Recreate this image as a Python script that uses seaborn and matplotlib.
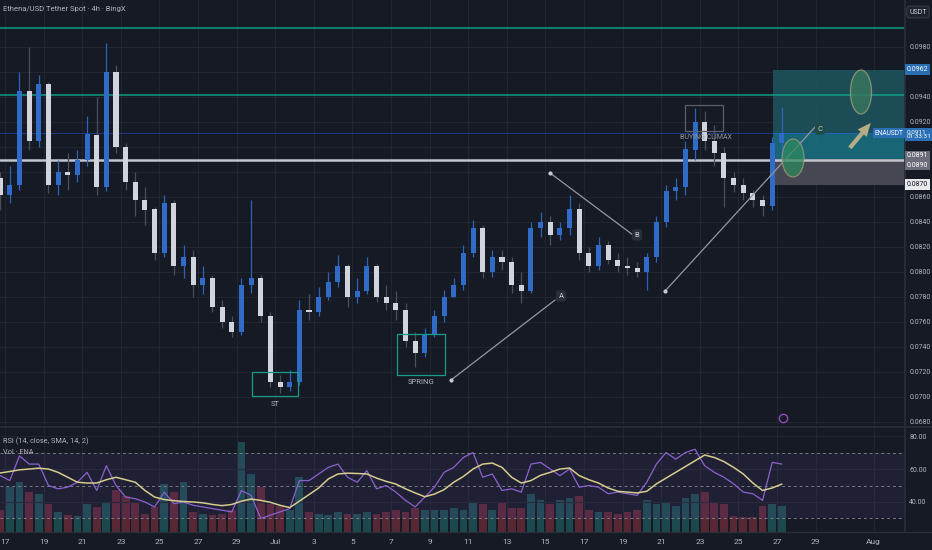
import numpy as np
import pandas as pd
import seaborn as sns
import matplotlib.pyplot as plt
import matplotlib.transforms as mtransforms
from matplotlib.patches import Rectangle, Ellipse

# ENA/USDT, 12h candles (Jun 16 evening -> Jul 27)
close = [0.0862, 0.0870, 0.0945, 0.0905, 0.0950, 0.0870, 0.0880, 0.0878, 0.0890, 0.0910,
         0.0868, 0.0960, 0.0900, 0.0872, 0.0858, 0.0850, 0.0815, 0.0855, 0.0805, 0.0812,
         0.0790, 0.0795, 0.0772, 0.0760, 0.0752, 0.0790, 0.0795, 0.0765, 0.0712, 0.0708,
         0.0712, 0.0770, 0.0768, 0.0780, 0.0792, 0.0805, 0.0780, 0.0785, 0.0805, 0.0780,
         0.0775, 0.0770, 0.0745, 0.0735, 0.0750, 0.0765, 0.0780, 0.0790, 0.0815, 0.0835,
         0.0800, 0.0812, 0.0808, 0.0790, 0.0785, 0.0835, 0.0840, 0.0830, 0.0835, 0.0850,
         0.0815, 0.0805, 0.0822, 0.0810, 0.0805, 0.0803, 0.0800, 0.0812, 0.0840, 0.0865,
         0.0868, 0.0898, 0.0920, 0.0905, 0.0895, 0.0875, 0.0870, 0.0863, 0.0858, 0.0853,
         0.0903, 0.0911]
high = [0.0880, 0.0885, 0.0960, 0.0980, 0.0958, 0.0952, 0.0890, 0.0895, 0.0898, 0.0925,
        0.0940, 0.0983, 0.0966, 0.0903, 0.0880, 0.0868, 0.0852, 0.0862, 0.0858, 0.0822,
        0.0818, 0.0805, 0.0798, 0.0778, 0.0765, 0.0795, 0.0858, 0.0798, 0.0768, 0.0718,
        0.0722, 0.0778, 0.0782, 0.0788, 0.0800, 0.0814, 0.0806, 0.0795, 0.0812, 0.0806,
        0.0790, 0.0785, 0.0775, 0.0752, 0.0755, 0.0770, 0.0786, 0.0795, 0.0822, 0.0842,
        0.0838, 0.0818, 0.0818, 0.0812, 0.0800, 0.0840, 0.0848, 0.0845, 0.0840, 0.0862,
        0.0855, 0.0820, 0.0828, 0.0825, 0.0815, 0.0812, 0.0808, 0.0815, 0.0845, 0.0870,
        0.0875, 0.0905, 0.0931, 0.0929, 0.0918, 0.0900, 0.0880, 0.0875, 0.0866, 0.0862,
        0.0908, 0.0932]
low = [0.0850, 0.0855, 0.0866, 0.0898, 0.0900, 0.0863, 0.0862, 0.0866, 0.0872, 0.0885,
       0.0862, 0.0865, 0.0895, 0.0866, 0.0845, 0.0838, 0.0810, 0.0812, 0.0798, 0.0795,
       0.0780, 0.0782, 0.0768, 0.0755, 0.0748, 0.0750, 0.0783, 0.0760, 0.0708, 0.0703,
       0.0705, 0.0710, 0.0762, 0.0765, 0.0778, 0.0788, 0.0772, 0.0775, 0.0782, 0.0776,
       0.0770, 0.0762, 0.0740, 0.0724, 0.0732, 0.0748, 0.0760, 0.0780, 0.0786, 0.0812,
       0.0795, 0.0796, 0.0802, 0.0783, 0.0775, 0.0783, 0.0828, 0.0822, 0.0826, 0.0830,
       0.0810, 0.0800, 0.0802, 0.0806, 0.0800, 0.0798, 0.0796, 0.0786, 0.0808, 0.0836,
       0.0858, 0.0862, 0.0890, 0.0898, 0.0885, 0.0852, 0.0864, 0.0858, 0.0852, 0.0845,
       0.0850, 0.0892]
first_open = 0.0875
volume = [22, 45, 50, 40, 38, 28, 20, 17, 16, 28, 25, 30, 42, 36, 30, 18, 25, 48, 40, 50,
          20, 18, 17, 18, 22, 90, 58, 45, 28, 26, 22, 55, 20, 18, 17, 20, 18, 18, 20, 18,
          20, 22, 20, 24, 22, 22, 22, 24, 22, 30, 28, 22, 30, 24, 24, 38, 32, 28, 32, 34,
          36, 22, 20, 20, 18, 20, 22, 32, 28, 30, 26, 34, 38, 40, 30, 28, 16, 15, 15, 26,
          28, 26]
rsi = [56, 53, 68, 63, 63, 50, 48, 49, 52, 58, 47, 62, 50, 43, 42, 40, 37, 46, 39, 40,
       38, 37, 36, 35, 34, 47, 44, 30, 32, 34, 36, 53, 53, 57, 61, 63, 55, 52, 59, 48,
       50, 46, 41, 37, 43, 49, 58, 61, 67, 70, 55, 57, 47, 48, 46, 63, 64, 60, 56, 60,
       49, 50, 49, 45, 46, 45, 44, 52, 63, 70, 66, 70, 72, 62, 58, 55, 51, 46, 45, 41,
       64, 63]
rsi_ma = [57.6, 58.5, 59.5, 60, 60.5, 60, 58, 55, 52, 51.5, 51.5, 53.5, 55, 53.5, 52, 47,
          43, 41.5, 40.8, 40.3, 40, 39.5, 38.5, 37.8, 38.5, 40.5, 41.8, 41, 39.8, 38, 36.6,
          40.5, 44.5, 48.5, 54, 57, 57.5, 57.3, 57, 54.5, 52.5, 50.9, 48, 45.5, 43.2, 44.8,
          47.5, 52, 55.5, 60, 63, 63.6, 61, 55, 51.5, 53, 56.2, 58, 60, 60.6, 56, 53.5,
          51.5, 48.5, 46.5, 46, 45.5, 46.5, 51, 54.5, 58, 61.5, 65, 68.5, 67, 64.5, 61, 57,
          51.5, 47, 48.5, 50.9]

tick_days = list(range(0, 44, 2)) + [45]
tick_labels = ["17", "19", "21", "23", "25", "27", "29", "Jul", "3", "5", "7", "9", "11",
               "13", "15", "17", "19", "21", "23", "25", "27", "29", "Aug"]
price_ticks = np.arange(0.068, 0.0999, 0.002)
hidden_ticks = [0.0960, 0.0900, 0.0880]   # covered by the position-tool tags

# drawings on the chart: (day since Jun 17, price)
lines_abc = [((23.11, 0.07136), (28.50, 0.07776)),
             ((28.24, 0.08792), (32.54, 0.08296)),
             ((34.20, 0.07848), (41.97, 0.09160))]
labels_abc = [("A", 28.81, 0.07808), ("B", 32.75, 0.08296), ("C", 42.23, 0.09144)]
boxes = [("ST", 12.80, 15.18, 0.07008, 0.0720, "#169c8a"),
         ("SPRING", 20.31, 22.80, 0.07176, 0.07504, "#169c8a"),
         ("BUYING CLIMAX", 35.23, 37.20, 0.09128, 0.09336, "#5d606b")]

# --- derived frame
t0 = pd.Timestamp("2025-06-17")
times = pd.date_range("2025-06-16 18:00", periods=len(close), freq="12h")
df = pd.DataFrame({"t": times, "close": close, "high": high, "low": low,
                   "vol": volume, "rsi": rsi, "rsi_ma": rsi_ma})
df["day"] = (df["t"] - t0) / pd.Timedelta(days=1)
df["open"] = df["close"].shift(1).fillna(first_open)
df["high"] = np.maximum(df["high"], df[["open", "close"]].max(axis=1))
df["low"] = np.minimum(df["low"], df[["open", "close"]].min(axis=1))
df["up"] = df["close"] >= df["open"]

BG = "#161a25"
GRID = "#21252f"
TXT = "#b2b5be"

sns.set_theme(style="dark")
plt.rcParams['font.family'] = ['Roboto', 'DejaVu Sans']

fig = plt.figure(figsize=(9.32, 5.5), dpi=100, facecolor=BG)
W = 905 / 932
ax = fig.add_axes([0, 125 / 550, W, 425 / 550], facecolor=BG)
axv = fig.add_axes([0, 18 / 550, W, 105 / 550], facecolor=BG)

xlim = (-0.26, 46.63)
for a in (ax, axv):
    a.set_xlim(*xlim)
    a.set_xticks(tick_days)
    a.grid(True, axis="x", color=GRID, lw=0.8)
    for s in a.spines.values():
        s.set_visible(False)
    a.tick_params(length=0)

ax.set_ylim(0.06776, 0.10176)
ax.set_yticks(price_ticks)
ax.yaxis.tick_right()
ax.set_yticklabels(["" if any(abs(p - h) < 1e-6 for h in hidden_ticks) else f"{p:.4f}"
                    for p in price_ticks], fontsize=5.0, color=TXT)
ax.tick_params(axis="y", pad=3)
ax.set_xticklabels([])
ax.grid(True, axis="y", color=GRID, lw=0.8)
ax.spines["right"].set_visible(True)
ax.spines["right"].set_color("#2a2e39")

# reference levels
ax.axhline(0.0995, color="#0f9d84", lw=1.1)
ax.axhline(0.0942, color="#0f9d84", lw=1.1)
ax.axhline(0.0911, color="#2962ff", lw=0.7, alpha=0.45)
ax.axhline(0.08898, color="#c3c5cc", lw=1.8)

# long-position tool
x_pos = 39.79
ax.add_patch(Rectangle((x_pos, 0.0911), xlim[1] - x_pos, 0.0962 - 0.0911,
                       facecolor="#1e5a63", edgecolor="none", alpha=0.8, zorder=1))
ax.add_patch(Rectangle((x_pos, 0.0890), xlim[1] - x_pos, 0.0911 - 0.0890,
                       facecolor="#197a8a", edgecolor="none", alpha=0.8, zorder=1))
ax.add_patch(Rectangle((x_pos, 0.0870), xlim[1] - x_pos, 0.0890 - 0.0870,
                       facecolor="#4b4e58", edgecolor="none", alpha=0.9, zorder=1))

# candles
wick_c = np.where(df["up"], "#2c62b8", "#4a4f5c")
body_c = np.where(df["up"], "#2f6bc7", "#d1d4dc")
ax.vlines(df["day"], df["low"], df["high"], colors=wick_c, lw=0.9, zorder=3)
body_h = np.maximum((df["close"] - df["open"]).abs(), 0.00006)
ax.bar(df["day"], body_h, bottom=df[["open", "close"]].min(axis=1), width=0.26,
       color=body_c, edgecolor="none", zorder=4)

# wyckoff drawings
for (p0, p1) in lines_abc:
    ax.plot([p0[0], p1[0]], [p0[1], p1[1]], color="#9598a1", lw=0.9, zorder=5)
    ax.plot([p0[0]], [p0[1]], "o", ms=2, color="#c8cad0", zorder=5)
for name, dx, py in labels_abc:
    fc = "#1e4a4a" if name == "C" else "#2a2e39"
    ax.text(dx, py, name, fontsize=5.5, color="#d1d4dc", ha="center", va="center", zorder=6,
            bbox=dict(boxstyle="round,pad=0.35", fc=fc, ec="none"))
for name, x0, x1, y0, y1, ec in boxes:
    ax.add_patch(Rectangle((x0, y0), x1 - x0, y1 - y0, fill=False, ec=ec, lw=0.9, zorder=5))
    if name == "BUYING CLIMAX":
        ax.text((x0 + x1) / 2 + 0.1, y0 - 0.0005, name, fontsize=5.0, color="#9598a1",
                ha="center", va="center", zorder=6)
    else:
        ax.text((x0 + x1) / 2, y0 - 0.0006, name, fontsize=5.5, color=TXT,
                ha="center", va="center", zorder=6)

ax.add_patch(Ellipse((44.35, 0.0944), 1.09, 0.00352, fc="#3a7a5e", ec="#a89f7a",
                     lw=0.9, alpha=0.75, zorder=6))
ax.add_patch(Ellipse((40.83, 0.08912), 1.14, 0.00304, fc="#2e8a5e", ec="#a89f7a",
                     lw=0.9, alpha=0.7, zorder=6))
ax.annotate("", xy=(44.95, 0.0921), xytext=(43.68, 0.08976),
            arrowprops=dict(arrowstyle="simple,head_width=0.7,head_length=0.8,tail_width=0.25",
                            color="#b5ad86", lw=0), zorder=6)
ax.plot([40.31], [0.06832], "o", ms=6, mfc="none", mec="#9c4dcc", mew=0.9, zorder=6)

ax.text(0.003, 0.985, "Ethena/USD Tether Spot · 4h · BingX", transform=ax.transAxes,
        fontsize=5.5, color=TXT, ha="left", va="top")

# price labels on the axis
tr = mtransforms.blended_transform_factory(ax.transAxes, ax.transData)
def tag(y, s, fc, tc="white", x=1.002, ha="left", size=5.0):
    ax.text(x, y, s, transform=tr, fontsize=size, color=tc, ha=ha, va="center", zorder=10,
            linespacing=1.0, bbox=dict(boxstyle="square,pad=0.25", fc=fc, ec="none"),
            clip_on=False)
tag(0.0962, "0.0962", "#2a6fb3")
tag(0.0910, "0.0911\n01:33:31", "#2a6fb3", size=4.6)
tag(0.0911, "ENAUSDT", "#2a6fb3", x=0.9985, ha="right", size=4.8)
tag(0.0893, "0.0891", "#6a6d78")
tag(0.08855, "0.0890", "#6a6d78")
tag(0.0870, "0.0870", "#e8e9ec", tc="#131722")
fig.text(918 / 932, 1 - 12 / 550, "USDT", fontsize=5.0, color="#d1d4dc", ha="center",
         va="center", bbox=dict(boxstyle="round,pad=0.35", fc="#1e222d", ec="#434651", lw=0.6))

# lower pane: volume + RSI
vol_c = np.where(df["up"], "#1f5a5c", "#6e2c3a")
axv.bar(df["day"], df["vol"], width=0.4, color=vol_c, edgecolor="none", alpha=0.75)
axv.set_ylim(0, 105)
axv.set_yticks([])
axv.set_xticklabels(tick_labels, fontsize=6.0, color=TXT)
axv.tick_params(axis="x", pad=5)

axr = axv.twinx()
axr.set_ylim(21.8, 85.5)
axr.axhspan(30, 70, color="#7e57c2", alpha=0.1, lw=0)
for v in (70, 50, 30):
    axr.axhline(v, color="#787b86", lw=0.7, ls=(0, (3, 3)))
sns.lineplot(x=df["day"], y=df["rsi"], ax=axr, color="#8a62cf", lw=0.9, legend=False)
sns.lineplot(x=df["day"], y=df["rsi_ma"], ax=axr, color="#d6cc8c", lw=1.1, legend=False)
axr.set_yticks([80, 60, 40])
axr.set_yticklabels(["80.00", "60.00", "40.00"], fontsize=5.0, color=TXT)
axr.set_ylabel("")
axr.tick_params(length=0, pad=3)
axr.grid(True, axis="y", color=GRID, lw=0.8)
for s in axr.spines.values():
    s.set_visible(False)
axr.spines["right"].set_visible(True)
axr.spines["right"].set_color("#2a2e39")
axr.text(0.003, 0.86, "RSI (14, close, SMA, 14, 2)", transform=axr.transAxes,
         fontsize=5.3, color=TXT, ha="left", va="center")
axr.text(0.003, 0.76, "Vol · ENA", transform=axr.transAxes,
         fontsize=5.3, color=TXT, ha="left", va="center")

# pane separators
fig.add_artist(plt.Line2D([0, 1], [1 - 427 / 550] * 2, color="#2a2e39", lw=1.2))
fig.add_artist(plt.Line2D([0, 1], [18 / 550] * 2, color="#2a2e39", lw=1.0))

fig.savefig("out.png", dpi=100, facecolor=BG)
